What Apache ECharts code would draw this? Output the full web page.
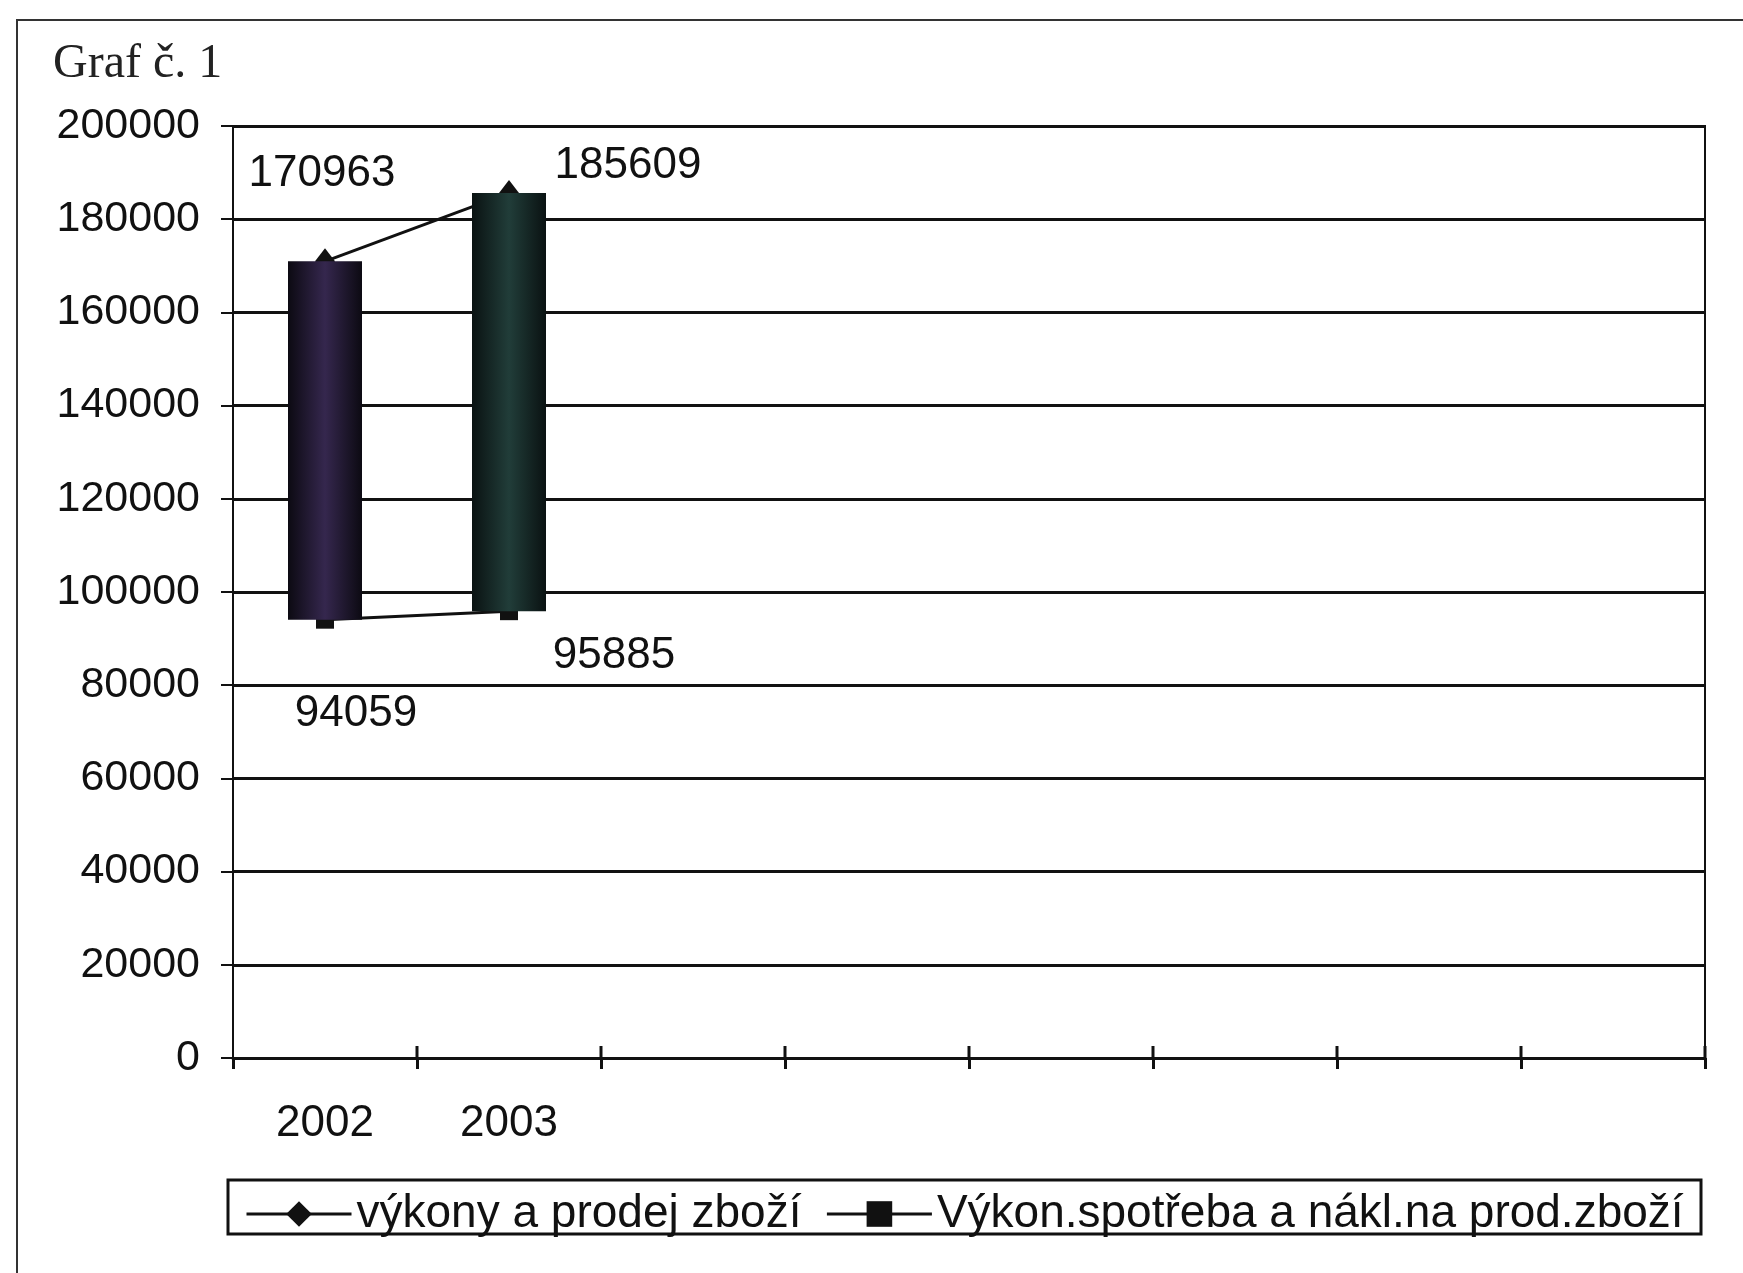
<!DOCTYPE html>
<html>
<head>
<meta charset="utf-8">
<script src="https://cdn.jsdelivr.net/npm/echarts@6/dist/echarts.min.js"></script>
<style>
html,body{margin:0;padding:0;background:#fff;}
#c{width:1743px;height:1273px;}
</style>
</head>
<body>
<div id="c"></div>
<script>
// ---- data ----
const categories = ['2002', '2003', '', '', '', '', '', ''];
const vykony = [170963, 185609];
const spotreba = [94059, 95885];
const seriesNames = ['výkony a prodej zboží', 'Výkon.spotřeba a nákl.na prod.zboží'];
const yTicks = {min: 0, max: 200000, interval: 20000};

const chart = echarts.init(document.getElementById('c'), null, {renderer: 'canvas'});
const INK = '#111';
const FONT = '"Liberation Sans", Arial, sans-serif';
const GRID = {left: 233, right: 38, top: 126, bottom: 215};

const barColors = [
  new echarts.graphic.LinearGradient(0, 0, 1, 0, [
    {offset: 0, color: '#0c0a12'}, {offset: 0.5, color: '#35274e'}, {offset: 1, color: '#0c0a12'}]),
  new echarts.graphic.LinearGradient(0, 0, 1, 0, [
    {offset: 0, color: '#0a1212'}, {offset: 0.5, color: '#213d39'}, {offset: 1, color: '#0a1212'}])
];
const highOffsets = [[-3, -87], [119, -27]];
const lowOffsets = [[31, 94], [105, 45]];

const labelStyle = {show: true, position: 'inside', fontSize: 44, fontFamily: FONT, color: INK,
  formatter: p => String(p.value)};

const option = {
  animation: false,
  backgroundColor: '#fff',
  grid: Object.assign({show: true, borderColor: INK, borderWidth: 2, backgroundColor: 'transparent'}, GRID),
  xAxis: {
    type: 'category', data: categories, boundaryGap: true, position: 'bottom',
    axisLine: {lineStyle: {color: INK, width: 3}},
    axisTick: {show: true, interval: 0, length: 11, lineStyle: {color: INK, width: 3}},
    axisLabel: {fontSize: 44, fontFamily: FONT, color: INK, margin: 44, interval: 0},
    splitLine: {show: false}
  },
  yAxis: {
    type: 'value', min: yTicks.min, max: yTicks.max, interval: yTicks.interval,
    axisLine: {show: true, lineStyle: {color: INK, width: 2}},
    axisTick: {show: true, length: 12, lineStyle: {color: INK, width: 2}},
    axisLabel: {fontSize: 43, fontFamily: FONT, color: INK, margin: 33, formatter: v => String(v)},
    splitLine: {show: true, lineStyle: {color: INK, width: 3}}
  },
  legend: {
    data: seriesNames, left: 245, top: 1191, padding: 0, itemGap: 24,
    itemWidth: 105, itemHeight: 32,
    lineStyle: {width: 3, color: INK},
    itemStyle: {color: INK},
    textStyle: {fontSize: 46, fontFamily: FONT, color: INK}
  },
  graphic: [
    {id: 'frame', type: 'rect', shape: {x: 17, y: 20, width: 1800, height: 1300}, style: {fill: 'none', stroke: '#333', lineWidth: 2}, silent: true},
    {id: 'legendBox', type: 'rect', shape: {x: 228, y: 1180, width: 1473, height: 54}, style: {fill: 'none', stroke: INK, lineWidth: 3}, silent: true},
    {id: 'title', type: 'text', left: 53, top: 40, style: {text: 'Graf č. 1', fontSize: 48, fontFamily: '"Liberation Serif", "Times New Roman", serif', fill: '#222'}}
  ],
  series: [
    {
      name: 'base', type: 'bar', stack: 'ud', barWidth: 74, z: 3, silent: true,
      itemStyle: {color: 'transparent'}, data: spotreba.slice()
    },
    {
      name: 'updown', type: 'bar', stack: 'ud', barWidth: 74, z: 3, silent: true,
      data: vykony.map((v, i) => ({value: v - spotreba[i], itemStyle: {color: barColors[i]}}))
    },
    {
      name: seriesNames[0], type: 'line', z: 2, symbol: 'diamond', symbolSize: [20, 26],
      lineStyle: {color: INK, width: 3}, itemStyle: {color: INK},
      data: vykony.map((v, i) => ({value: v, label: Object.assign({}, labelStyle, {offset: highOffsets[i]})}))
    },
    {
      name: seriesNames[1], type: 'line', z: 2, symbol: 'rect', symbolSize: 18,
      lineStyle: {color: INK, width: 3}, itemStyle: {color: INK},
      data: spotreba.map((v, i) => ({value: v, label: Object.assign({}, labelStyle, {offset: lowOffsets[i]})}))
    }
  ]
};
chart.setOption(option);

// inward half of the crossing category ticks, placed at category boundaries via the axis scale
const c0 = chart.convertToPixel({xAxisIndex: 0}, 0);
const c1 = chart.convertToPixel({xAxisIndex: 0}, 1);
const band = c1 - c0;
const yZero = chart.convertToPixel({yAxisIndex: 0}, 0);
const tickEls = categories.map((c, i) => {
  const x = chart.convertToPixel({xAxisIndex: 0}, i) + band / 2;
  return {id: 'itick' + i, type: 'line', silent: true, z: 10,
    shape: {x1: x, y1: yZero, x2: x, y2: yZero - 12}, style: {stroke: INK, lineWidth: 3}};
});
chart.setOption({graphic: tickEls});
</script>
</body>
</html>
